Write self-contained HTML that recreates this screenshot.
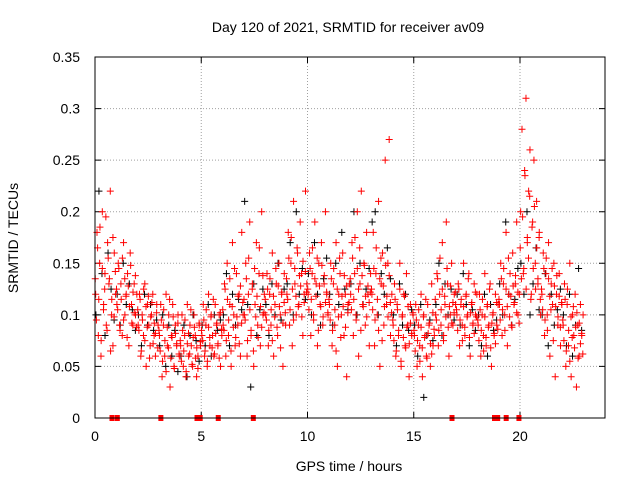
<!DOCTYPE html>
<html><head><meta charset="utf-8"><style>
html,body{margin:0;padding:0;background:#fff;}
svg{display:block;font-family:"Liberation Sans",sans-serif;}
</style></head><body>
<svg id="chart" width="640" height="480">
<text x="348" y="32" text-anchor="middle" font-size="14">Day 120 of 2021, SRMTID for receiver av09</text>
<text x="349" y="471" text-anchor="middle" font-size="14">GPS time / hours</text>
<text transform="translate(18,238) rotate(-90)" text-anchor="middle" font-size="14">SRMTID / TECUs</text>
<g id="grid"></g><g id="axes"></g><g id="black"></g><g id="red"></g><g id="flags"></g>
<rect x="95" y="57" width="510" height="361" fill="none" stroke="#000"/>
</svg>
<script>
const xTicks=[0,5,10,15,20];
const yTicks=[0,0.05,0.1,0.15,0.2,0.25,0.3,0.35];
const yTickLabels=["0","0.05","0.1","0.15","0.2","0.25","0.3","0.35"];
const redHourly=[
[.12,.18,.08,.15,.06,.2,.11,.14,.09,.17,.13,.22,.1,.07,.16,.12],
[.11,.15,.09,.13,.08,.17,.1,.12,.14,.07,.16,.11,.09,.13,.1,.12],
[.09,.12,.06,.1,.08,.13,.05,.11,.09,.07,.1,.12,.08,.06,.11,.09],
[.08,.11,.04,.09,.06,.12,.07,.1,.03,.08,.11,.05,.09,.07,.1,.06],
[.07,.1,.05,.08,.04,.11,.06,.09,.07,.05,.1,.08,.04,.06,.09,.07],
[.08,.11,.06,.09,.05,.12,.07,.1,.08,.06,.11,.09,.07,.1,.05,.08],
[.09,.13,.06,.15,.08,.11,.05,.17,.1,.07,.14,.09,.12,.06,.18,.1],
[.1,.15,.06,.12,.19,.08,.13,.05,.11,.17,.09,.14,.07,.2,.1,.12],
[.1,.14,.07,.12,.09,.16,.06,.11,.13,.08,.15,.1,.12,.05,.14,.09],
[.12,.18,.09,.15,.07,.21,.13,.1,.16,.11,.19,.14,.08,.12,.22,.13],
[.12,.16,.08,.14,.1,.19,.13,.07,.15,.11,.17,.09,.13,.2,.12,.1],
[.11,.15,.07,.13,.09,.17,.05,.12,.14,.1,.16,.08,.12,.04,.11,.13],
[.12,.17,.08,.14,.1,.2,.06,.13,.22,.11,.15,.09,.18,.12,.07,.14],
[.12,.18,.07,.14,.1,.21,.05,.13,.16,.09,.25,.11,.15,.27,.08,.12],
[.09,.13,.06,.11,.08,.15,.05,.1,.12,.07,.14,.09,.04,.11,.08,.1],
[.08,.11,.05,.09,.07,.12,.04,.1,.08,.06,.11,.09,.05,.13,.07,.08],
[.1,.14,.07,.12,.09,.17,.08,.11,.19,.13,.06,.1,.15,.09,.12,.11],
[.1,.13,.07,.11,.09,.15,.08,.12,.1,.14,.06,.11,.09,.13,.1,.12],
[.09,.12,.06,.1,.08,.14,.07,.11,.09,.13,.05,.1,.08,.12,.09,.11],
[.11,.15,.08,.13,.1,.18,.07,.12,.14,.09,.16,.11,.13,.19,.1,.12],
[.2,.28,.14,.24,.31,.17,.22,.26,.12,.19,.25,.15,.21,.13,.18,.1],
[.12,.16,.08,.14,.1,.17,.06,.13,.11,.15,.04,.12,.09,.14,.07,.11],
[.09,.13,.05,.11,.07,.15,.04,.1,.08,.12,.03,.09,.06,.11,.08,.1]
];
const redHourlyB=[
[.135,.095,.165,.115,.185,.075,.145,.105,.125,.195,.085,.155,.135,.065,.115,.175,.098,.142],
[.125,.105,.145,.085,.115,.155,.095,.135,.118,.078,.128,.108,.148,.092,.122,.102,.138,.088],
[.105,.085,.115,.065,.095,.125,.075,.108,.088,.118,.058,.098,.112,.072,.092,.082,.102,.068],
[.085,.065,.095,.055,.105,.075,.045,.088,.068,.115,.058,.078,.098,.048,.082,.072,.092,.062],
[.075,.055,.085,.065,.095,.045,.072,.082,.062,.105,.052,.078,.088,.058,.068,.048,.092,.074],
[.085,.075,.095,.065,.105,.055,.088,.078,.098,.068,.115,.062,.082,.092,.072,.058,.102,.086],
[.105,.085,.125,.075,.115,.095,.135,.065,.108,.088,.145,.078,.098,.118,.072,.128,.092,.112],
[.115,.095,.135,.075,.155,.105,.085,.125,.065,.145,.098,.118,.078,.165,.108,.088,.138,.102],
[.115,.095,.125,.085,.135,.105,.075,.118,.098,.145,.088,.128,.108,.068,.122,.092,.112,.102],
[.135,.115,.155,.105,.175,.125,.095,.145,.118,.165,.108,.138,.128,.098,.152,.112,.142,.122],
[.125,.105,.145,.115,.165,.095,.135,.118,.155,.085,.128,.108,.148,.098,.138,.112,.122,.102],
[.115,.095,.135,.085,.145,.105,.065,.125,.098,.155,.078,.118,.108,.138,.088,.128,.102,.112],
[.135,.105,.155,.115,.175,.095,.145,.125,.165,.085,.138,.108,.148,.118,.098,.128,.112,.122],
[.125,.105,.145,.095,.165,.115,.085,.135,.155,.075,.128,.108,.148,.118,.098,.138,.112,.102],
[.095,.075,.115,.065,.105,.085,.125,.055,.098,.078,.118,.068,.088,.108,.072,.092,.082,.102],
[.085,.065,.095,.075,.105,.055,.088,.068,.098,.078,.115,.058,.082,.092,.072,.062,.102,.086],
[.115,.095,.135,.085,.155,.105,.125,.075,.118,.098,.145,.088,.108,.128,.092,.112,.102,.122],
[.105,.085,.125,.095,.115,.075,.108,.088,.118,.098,.135,.078,.102,.112,.092,.082,.122,.098],
[.095,.075,.105,.085,.115,.065,.098,.078,.108,.088,.125,.068,.092,.102,.082,.072,.112,.086],
[.115,.095,.135,.105,.145,.085,.125,.108,.155,.098,.118,.088,.128,.112,.138,.102,.122,.092],
[.165,.135,.195,.145,.235,.125,.175,.155,.215,.115,.185,.145,.205,.125,.165,.135,.175,.115],
[.125,.105,.145,.095,.155,.085,.135,.118,.105,.145,.075,.128,.108,.138,.098,.118,.088,.112],
[.095,.075,.115,.065,.125,.085,.055,.098,.078,.108,.068,.088,.102,.058,.092,.072,.082,.062]
];
const blackHourly=[
[.1,.22,.14,.08,.16,.125,.095],[.12,.09,.15,.11,.13,.105,.085],[.1,.07,.12,.09,.11,.085,.095],[.07,.1,.05,.09,.06,.085,.045],
[.06,.09,.04,.08,.1,.075,.055],[.09,.07,.11,.06,.1,.085,.095],[.1,.14,.07,.12,.09,.115,.105],[.21,.11,.03,.13,.08,.105,.125],
[.11,.08,.13,.1,.15,.095,.125],[.13,.17,.1,.2,.12,.145,.115],[.14,.1,.17,.12,.09,.135,.155],[.12,.09,.15,.11,.18,.125,.105],
[.13,.2,.1,.15,.11,.125,.145],[.19,.2,.1,.14,.12,.165,.135],[.1,.07,.13,.09,.12,.085,.105],[.09,.06,.11,.02,.08,.095,.075],
[.11,.15,.08,.13,.1,.125,.095],[.12,.09,.14,.11,.07,.105,.085],[.1,.07,.12,.06,.11,.085,.095],[.13,.1,.19,.12,.09,.115,.145],
[.15,.12,.2,.1,.13,.165,.105],[.1,.14,.07,.12,.09,.105,.125],[.1,.07,.12,.06,.09,.145,.085]
];
const flagHours=[0.8,1.05,3.1,4.8,4.95,5.8,7.45,16.8,18.8,18.95,19.35,19.95];
const NS="http://www.w3.org/2000/svg";
const X0=95,X1=605,Y0=418,Y1=57,XMAX=24,YMAX=0.35;
function xs(t){return X0+(X1-X0)*t/XMAX;}
function ys(v){return Y0-(Y0-Y1)*v/YMAX;}
function mk(tag,attrs,parent){const e=document.createElementNS(NS,tag);for(const k in attrs)e.setAttribute(k,attrs[k]);parent.appendChild(e);return e;}
const grid=document.getElementById('grid'),axes=document.getElementById('axes');
xTicks.forEach((t,i)=>{const x=xs(t);
 if(t>0){const g=mk('line',{x1:x,x2:x,y1:Y0,y2:Y1,stroke:'#a0a0a0','stroke-dasharray':'1,2'},grid);
 
 }
 const tk=mk('path',{d:`M${x},${Y0}v-6M${x},${Y1}v6`,stroke:'#000'},axes);
 
 
 const l=mk('text',{x:x,y:Y0+23,'text-anchor':'middle','font-size':14},axes);l.textContent=t;
 
 
});
yTicks.forEach((v,i)=>{const y=ys(v);
 if(v>0&&v<YMAX){const g=mk('line',{x1:X0,x2:X1,y1:y,y2:y,stroke:'#a0a0a0','stroke-dasharray':'1,2'},grid);
 
 }
 const tk=mk('path',{d:`M${X0},${y}h6M${X1},${y}h-6`,stroke:'#000'},axes);
 
 
 const l=mk('text',{x:X0-15,y:y+5,'text-anchor':'end','font-size':14},axes);l.textContent=yTickLabels[i];
 
 
});
function plus(parent,t,v,color,name){const x=xs(t),y=ys(v);
 const p=mk('path',{d:`M${x-3.5},${y}h7M${x},${y-3.5}v7`,stroke:color,'stroke-width':1},parent);
 
 }
const bg=document.getElementById('black');
blackHourly.forEach((row,h)=>row.forEach((v,i)=>plus(bg,h+(i+0.3)/row.length,v,'#000','black-point')));
const rg=document.getElementById('red');
redHourly.forEach((row,h)=>row.forEach((v,i)=>plus(rg,h+(i+0.5)/row.length,v,'#ff0000','red-point')));
redHourlyB.forEach((row,h)=>row.forEach((v,i)=>plus(rg,h+(i+0.2)/row.length,v,'#ff0000','red-point')));
const fg=document.getElementById('flags');
flagHours.forEach(t=>{const r=mk('rect',{x:xs(t)-2.5,y:Y0-3,width:5,height:6,fill:'#ff0000'},fg);
 
 });
</script>
</body></html>
